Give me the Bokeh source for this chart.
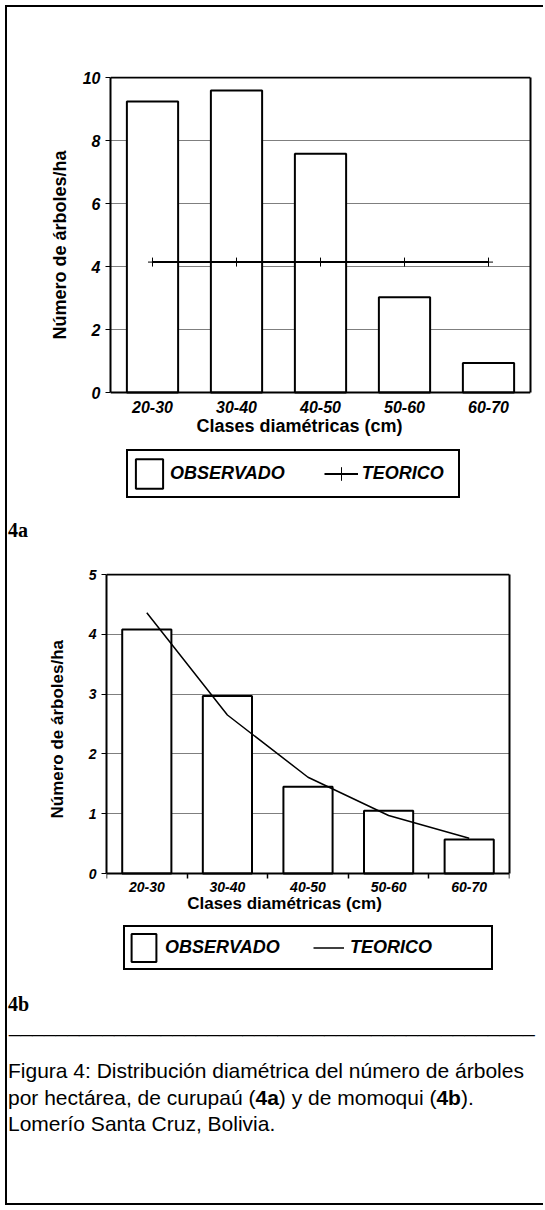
from bokeh.plotting import figure
from bokeh.models import (Range1d, FixedTicker, Legend, LegendItem, Div, Label, Grid,
                          LinearAxis, Title)
from bokeh.layouts import column, row
from bokeh.embed import file_html
from bokeh.resources import INLINE

# ---------------- data ----------------
categories = ["20-30", "30-40", "40-50", "50-60", "60-70"]
obs_4a = [9.24, 9.59, 7.58, 3.02, 0.94]
teo_4a = [4.14, 4.14, 4.14, 4.14, 4.14]
obs_4b = [4.08, 2.97, 1.45, 1.05, 0.57]
teo_4b = [4.36, 2.65, 1.61, 0.97, 0.59]
yticks_4a = [0, 2, 4, 6, 8, 10]
yticks_4b = [0, 1, 2, 3, 4, 5]
x_title = "Clases diamétricas (cm)"
y_title = "Número de árboles/ha"
legend_labels = ["OBSERVADO", "TEORICO"]
panel_labels = ["4a", "4b"]
caption = ("Figura 4: Distribución diamétrica del número de árboles<br>"
           "por hectárea, de curupaú (<b>4a</b>) y de momoqui (<b>4b</b>).<br>"
           "Lomerío Santa Cruz, Bolivia.")

FONT = "Liberation Sans"


def chart(obs, teo, yticks, geo, ytick_fs, xtick_fs, title_fs, xt, yt_offset, yt_standoff,
          xlab_standoff, leg, boundary_ticks, markers, teo_lw):
    """geo: page-pixel layout (fig_top, chart_left, chart_right, chart_top,
    chart_zero, frame_bottom, fig_bottom)."""
    n = len(categories)
    ymax = yticks[-1]
    fig_top, c_left, c_right, c_top, c_zero, f_bottom, fig_bottom = geo
    fig_left, fig_width = 7, 536
    ppu = (c_zero - c_top) / ymax
    f_top = c_top - 1
    y_range = Range1d(-(f_bottom - c_zero) / ppu, ymax + (c_top - f_top) / ppu)
    x_range = Range1d(0, n)

    p = figure(width=fig_width, height=fig_bottom - fig_top,
               x_range=x_range, y_range=y_range,
               output_backend="svg", toolbar_location=None, tools="",
               min_border_left=c_left - fig_left,
               min_border_right=fig_left + fig_width - c_right,
               min_border_top=f_top - fig_top,
               min_border_bottom=fig_bottom - f_bottom)
    p.background_fill_color = "white"
    p.border_fill_color = "white"
    p.outline_line_color = None

    xs = [i + 0.5 for i in range(n)]

    # horizontal grid lines and the top edge of the chart box
    p.xgrid.visible = False
    p.ygrid.ticker = FixedTicker(ticks=yticks[1:-1])
    p.ygrid.grid_line_color = "#7f7f7f"
    p.ygrid.grid_line_width = 1
    p.add_layout(Grid(dimension=1, ticker=FixedTicker(ticks=[ymax]),
                      grid_line_color="black", grid_line_width=2))

    # left axis
    ya = p.yaxis[0]
    ya.ticker = FixedTicker(ticks=yticks)
    ya.bounds = (0, ymax)
    ya.axis_line_width = 2
    ya.axis_line_color = "black"
    ya.major_tick_out = 5
    ya.major_tick_in = 0
    ya.major_tick_line_width = 1
    ya.minor_tick_line_color = None
    ya.major_label_standoff = 5
    ya.major_label_text_font = FONT
    ya.major_label_text_font_style = "bold italic"
    ya.major_label_text_font_size = ytick_fs
    ya.major_label_text_color = "black"

    # right edge of the chart box
    ra = LinearAxis(ticker=FixedTicker(ticks=[]), bounds=(0, ymax),
                    axis_line_width=2, axis_line_color="black",
                    major_tick_line_color=None, minor_tick_line_color=None)
    p.add_layout(ra, "right")

    # y title, to the left of the tick labels
    p.add_layout(Title(text=y_title, align="left", offset=yt_offset, standoff=yt_standoff,
                       text_font=FONT, text_font_style="bold", text_font_size=title_fs,
                       text_color="black"), "left")

    # bottom axis at zero
    xa = p.xaxis[0]
    xa.fixed_location = 0
    xa.bounds = (0, n)
    xa.ticker = FixedTicker(ticks=xs, minor_ticks=list(range(n + 1)))
    xa.major_label_overrides = {x: c for x, c in zip(xs, categories)}
    xa.axis_line_width = 2
    xa.axis_line_color = "black"
    xa.major_tick_line_color = None
    xa.major_tick_out = 0
    xa.major_tick_in = 0
    if boundary_ticks:
        xa.minor_tick_line_color = "black"
        xa.minor_tick_line_width = 1.5
        xa.minor_tick_out = 5
        xa.minor_tick_in = 0
    else:
        xa.minor_tick_line_color = None
        xa.minor_tick_out = 0
    xa.major_label_standoff = xlab_standoff
    xa.major_label_text_font = FONT
    xa.major_label_text_font_style = "bold italic"
    xa.major_label_text_font_size = xtick_fs
    xa.major_label_text_color = "black"

    bars = p.vbar(x=xs, top=obs, bottom=0, width=0.61, fill_color="white",
                  line_color="black", line_width=2)
    ln = p.line(xs, teo, line_color="black", line_width=teo_lw)
    rends = [ln]
    if markers:
        sc = p.scatter(xs, teo, marker="cross", size=9, line_color="black", line_width=1)
        rends.append(sc)

    # x title (inside the frame, below the zero line)
    p.add_layout(Label(x=xt[0] - c_left, y=f_bottom - xt[1], x_units="screen", y_units="screen",
                       text=x_title, text_align="center", text_baseline="middle",
                       text_font=FONT, text_font_style="bold", text_font_size=title_fs,
                       text_color="black"))

    legend = Legend(items=[LegendItem(label=legend_labels[0], renderers=[bars]),
                           LegendItem(label=legend_labels[1], renderers=rends)],
                    location=(leg["left"] - c_left, f_bottom - leg["bottom"]),
                    orientation="horizontal",
                    border_line_color="black", border_line_width=2, border_line_alpha=1,
                    background_fill_color="white", background_fill_alpha=1,
                    padding=leg["pad"], spacing=leg["spacing"], margin=0,
                    glyph_width=leg["gw"], glyph_height=leg["gh"],
                    label_standoff=leg["standoff"], label_width=leg["lw"],
                    label_text_font=FONT, label_text_font_style="bold italic",
                    label_text_font_size=leg["fs"], label_text_color="black")
    p.add_layout(legend)
    return p


pA = chart(obs_4a, teo_4a, yticks_4a, (7, 110, 530, 77, 392, 499, 525),
           "16px", "16px", "18px", xt=(299, 425), yt_offset=160, yt_standoff=19,
           xlab_standoff=8,
           leg=dict(left=126, bottom=498, pad=4, spacing=39, gw=34, gh=37,
                    standoff=4, lw=92, fs="18px"),
           boundary_ticks=False, markers=True, teo_lw=2)

pB = chart(obs_4b, teo_4b, yticks_4b, (548, 106, 509, 574, 873, 971, 998),
           "14px", "14px", "17px", xt=(284, 903), yt_offset=153, yt_standoff=37,
           xlab_standoff=3,
           leg=dict(left=123, bottom=970, pad=3, spacing=10, gw=31, gh=35,
                    standoff=6, lw=138, fs="18px"),
           boundary_ticks=True, markers=False, teo_lw=1.5)


def label_div(text, h, top):
    html = ('<div style="position:relative;height:%dpx;">'
            '<div style="position:absolute;left:1px;top:%dpx;font-family:\'Liberation Serif\','
            '\'Times New Roman\',serif;font-weight:bold;font-size:20px;line-height:20px;'
            'color:#000;white-space:nowrap;">%s</div></div>') % (h, top, text)
    return Div(text=html, width=536, height=h, margin=0)


divA = label_div(panel_labels[0], 23, -5)
divB = label_div(panel_labels[1], 22, -4)

underline = "_" * 45
cap_html = (
    '<div style="position:relative;width:536px;height:183px;'
    'font-family:\'Liberation Sans\',Arial,sans-serif;color:#000;">'
    '<div style="position:absolute;left:2px;top:0px;font-size:21px;line-height:10px;'
    'white-space:nowrap;">' + underline + '</div>'
    '<div style="position:absolute;left:1px;top:38px;font-size:21px;line-height:26.5px;'
    'white-space:nowrap;">' + caption + '</div></div>'
)
cap = Div(text=cap_html, width=536, height=183, margin=0)

BLACK = {"background-color": "black"}
top_line = Div(text="", width=538, height=2, margin=(5, 0, 0, 5), styles=BLACK)
left_line = Div(text="", width=2, height=1196, margin=(0, 0, 0, 5), styles=BLACK)
bottom_line = Div(text="", width=538, height=2, margin=(0, 0, 0, 5), styles=BLACK)

content = column(row(pA), divA, row(pB), divB, cap, spacing=0)
layout = column(top_line, row(left_line, content, spacing=0), bottom_line, spacing=0)

open("out.html", "w").write(file_html(layout, INLINE))
